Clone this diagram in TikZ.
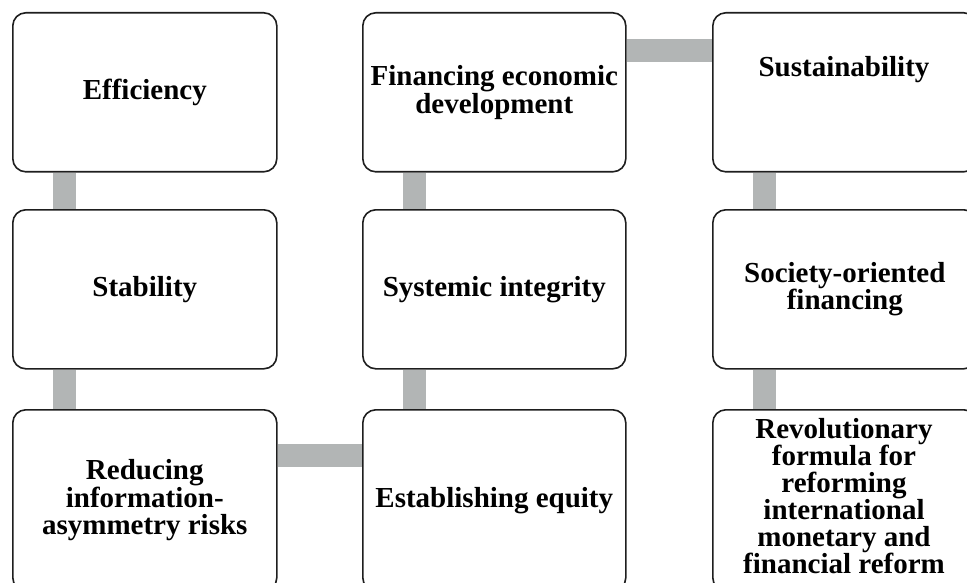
\documentclass[tikz,border=0pt]{standalone}
\usepackage{fontspec}
\setmainfont{Liberation Serif}
\usetikzlibrary{backgrounds}
\definecolor{conngray}{RGB}{178,181,181}
\definecolor{boxline}{RGB}{30,30,30}
\begin{document}
\begin{tikzpicture}[x=1pt,y=-1pt,
  box/.style={draw=boxline, line width=1.6pt, rounded corners=13pt, fill=white,
    minimum width=264pt, anchor=north west, inner sep=0pt, align=center,
    font=\bfseries\fontsize{29}{27.5}\selectfont},
  txt/.style={inner sep=0pt, align=center, font=\bfseries\fontsize{29}{27.5}\selectfont},
  conn/.style={draw=conngray, line width=23pt}
]
\useasboundingbox (0,0) rectangle (967,583);
\clip (0,0) rectangle (967,583);
\node[box, minimum height=159pt] (eff) at (12,12) {Efficiency};
\node[box, minimum height=159pt] (stab) at (12,209) {Stability};
\node[box, minimum height=181pt] (red) at (12,409) {Reducing\\information-\\asymmetry risks};
\node[box, minimum height=159pt, minimum width=263pt] (fin) at (362,12) {Financing economic\\development};
\node[box, minimum height=159pt, minimum width=263pt] (sys) at (362,209) {Systemic integrity};
\node[box, minimum height=181pt, minimum width=263pt] (est) at (362,409) {Establishing equity};
\node[box, minimum height=159pt] (sus) at (712,12) {};
\node[txt] (sust) at (844,70) {Sustainability};
\node[box, minimum height=159pt] (soc) at (712,209) {Society-oriented\\financing};
\node[box, minimum height=181pt] (rev) at (712,409) {};
\node[txt, font=\bfseries\fontsize{29}{27}\selectfont] (revt) at (844,496) {Revolutionary\\formula for\\reforming\\international\\monetary and\\financial reform};
\begin{scope}[on background layer]
\draw[conn] ([xshift=52.5pt]eff.south west) -- ([xshift=52.5pt]stab.north west);
\draw[conn] ([xshift=52.5pt]stab.south west) -- ([xshift=52.5pt]red.north west);
\draw[conn] ([yshift=-46.5pt]red.north east) -- ([yshift=-46.5pt]est.north west);
\draw[conn] ([xshift=52.5pt]est.north west) -- ([xshift=52.5pt]sys.south west);
\draw[conn] ([xshift=52.5pt]sys.north west) -- ([xshift=52.5pt]fin.south west);
\draw[conn] ([yshift=-39pt]fin.north east) -- ([yshift=-39pt]sus.north west);
\draw[conn] ([xshift=52.5pt]sus.south west) -- ([xshift=52.5pt]soc.north west);
\draw[conn] ([xshift=52.5pt]soc.south west) -- ([xshift=52.5pt]rev.north west);
\end{scope}
\end{tikzpicture}
\end{document}
